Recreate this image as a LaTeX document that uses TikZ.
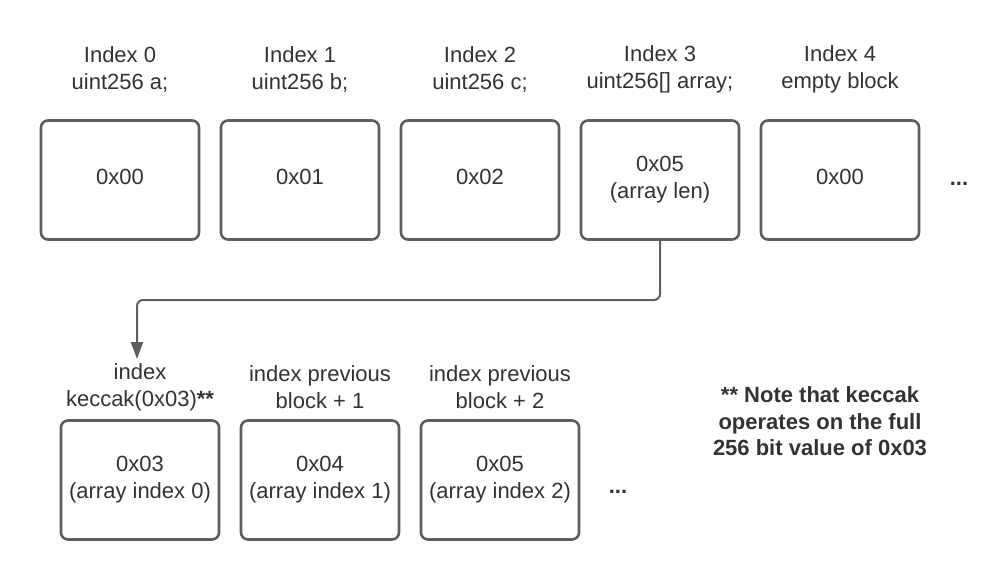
\documentclass[tikz,border=0pt]{standalone}
\usepackage{fontspec}
\setmainfont{Liberation Sans}
\usetikzlibrary{arrows.meta}
\definecolor{txt}{HTML}{333333}
\definecolor{edgec}{HTML}{5E5E5E}
\begin{document}
\begin{tikzpicture}[x=1pt,y=-1pt,
  blk/.style={draw=edgec, line width=2.6pt, rounded corners=7pt, minimum width=158pt, minimum height=119pt, inner sep=0pt, align=center, text=txt, font=\fontsize{22}{27}\selectfont},
  oneline/.style={text depth=6pt},
  lbl/.style={align=center, text=txt, inner sep=0pt, font=\fontsize{22}{27}\selectfont},
  note/.style={align=center, text=txt, inner sep=0pt, font=\fontsize{22}{26.5}\selectfont\bfseries},
  conn/.style={draw=edgec, line width=2pt, rounded corners=6pt, -{Triangle[length=17pt,width=12pt]}}]
\useasboundingbox[fill=white] (0,0) rectangle (991,580);
% top row
\node[blk, oneline] (t0) at (120,180) {0x00};
\node[blk, oneline] (t1) at (300,180) {0x01};
\node[blk, oneline] (t2) at (480,180) {0x02};
\node[blk] (t3) at (660,180) {0x05\\(array len)};
\node[blk, oneline] (t4) at (840,180) {0x00};
\node[lbl, font=\fontsize{22}{27}\selectfont\bfseries] (tdots) at (959,184) {...};
\node[lbl] (l0) at (120,69.5) {Index 0\\uint256 a;};
\node[lbl] (l1) at (300,69.5) {Index 1\\uint256 b;};
\node[lbl] (l2) at (480,69.5) {Index 2\\uint256 c;};
\node[lbl] (l3) at (660,69.5) {Index 3\\uint256[] array;};
\node[lbl] (l4) at (840,69.5) {Index 4\\empty block};
% bottom row
\node[blk] (b0) at (140,480) {0x03\\(array index 0)};
\node[blk] (b1) at (320,480) {0x04\\(array index 1)};
\node[blk] (b2) at (500,480) {0x05\\(array index 2)};
\node[lbl, font=\fontsize{22}{27}\selectfont\bfseries] (bdots) at (618,492) {...};
\node[lbl] (m0) at (140,387.5) {index\\keccak(0x03)\textbf{**}};
\node[lbl] (m1) at (320,387.5) {index previous\\block + 1};
\node[lbl] (m2) at (500,387.5) {index previous\\block + 2};
\node[note] (nt) at (820,421.5) {** Note that keccak\\operates on the full\\256 bit value of 0x03};
% connector
\coordinate (tip) at (137,359);
\draw[conn] (t3.south) -- (660,300) -- (137,300) -- (tip);
\end{tikzpicture}
\end{document}
